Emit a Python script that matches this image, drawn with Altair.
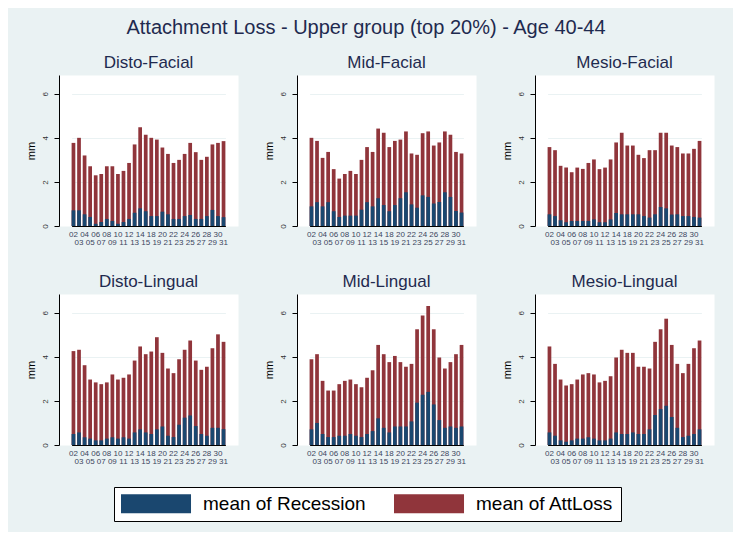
import altair as alt
import pandas as pd

teeth = ["02", "03", "04", "05", "06", "07", "08", "09", "10", "11", "12", "13", "14", "15",
         "18", "19", "20", "21", "22", "23", "24", "25", "26", "27", "28", "29", "30", "31"]

panels = ["Disto-Facial", "Mid-Facial", "Mesio-Facial",
          "Disto-Lingual", "Mid-Lingual", "Mesio-Lingual"]

series_names = ["mean of Recession", "mean of AttLoss"]

att_disto_facial = [3.77, 4.00, 3.20, 2.71, 2.30, 2.36, 2.71, 2.71, 2.36, 2.50, 2.86, 3.70, 4.48, 4.14,
                    4.00, 3.92, 3.56, 3.27, 2.86, 3.00, 3.27, 3.77, 3.35, 3.00, 3.14, 3.70, 3.77, 3.85]
rec_disto_facial = [0.71, 0.71, 0.53, 0.41, 0.10, 0.18, 0.32, 0.23, 0.10, 0.18, 0.32, 0.60, 0.80, 0.67,
                    0.45, 0.45, 0.65, 0.53, 0.32, 0.32, 0.45, 0.50, 0.32, 0.32, 0.45, 0.73, 0.45, 0.40]

att_mid_facial = [4.00, 3.86, 3.09, 3.36, 2.58, 2.15, 2.36, 2.50, 2.36, 3.00, 3.58, 3.36, 4.42, 4.23,
                  3.58, 3.86, 3.92, 4.29, 3.29, 3.23, 4.21, 4.29, 3.65, 3.79, 4.29, 4.14, 3.36, 3.29]
rec_mid_facial = [0.89, 1.08, 0.89, 1.08, 0.67, 0.41, 0.47, 0.47, 0.47, 0.74, 1.08, 0.89, 1.26, 0.95,
                  0.67, 0.95, 1.26, 1.53, 0.98, 0.83, 1.39, 1.32, 1.02, 1.09, 1.53, 1.32, 0.68, 0.61]

att_mesio_facial = [3.58, 3.44, 2.73, 2.65, 2.44, 2.65, 2.59, 2.86, 3.02, 2.58, 2.65, 3.02, 3.79, 4.23,
                    3.65, 3.65, 3.23, 3.08, 3.44, 3.44, 4.23, 4.23, 3.65, 3.58, 3.29, 3.29, 3.50, 3.86]
rec_mesio_facial = [0.53, 0.45, 0.26, 0.17, 0.23, 0.23, 0.23, 0.23, 0.30, 0.17, 0.17, 0.30, 0.59, 0.53,
                    0.53, 0.53, 0.53, 0.45, 0.38, 0.53, 0.86, 0.80, 0.52, 0.53, 0.45, 0.45, 0.41, 0.38]

att_disto_lingual = [4.26, 4.32, 3.62, 2.97, 2.84, 2.76, 2.84, 3.20, 2.97, 3.05, 3.20, 3.83, 4.47, 4.12,
                     4.24, 4.89, 4.18, 3.47, 3.26, 3.89, 4.32, 4.74, 3.83, 3.41, 3.55, 4.39, 5.02, 4.68]
rec_disto_lingual = [0.50, 0.57, 0.35, 0.29, 0.21, 0.21, 0.29, 0.35, 0.29, 0.35, 0.29, 0.57, 0.71, 0.57,
                     0.50, 0.71, 0.84, 0.42, 0.36, 0.92, 1.24, 1.34, 0.86, 0.50, 0.42, 0.78, 0.78, 0.72]

att_mid_lingual = [3.89, 4.12, 2.91, 2.47, 2.47, 2.76, 2.91, 2.97, 2.76, 2.62, 3.05, 3.39, 4.54, 4.12,
                   3.76, 4.04, 3.76, 3.55, 3.68, 5.25, 5.88, 6.30, 5.25, 3.97, 3.47, 3.76, 4.12, 4.54]
rec_mid_lingual = [0.71, 1.00, 0.50, 0.36, 0.36, 0.42, 0.42, 0.50, 0.42, 0.36, 0.50, 0.63, 1.21, 0.78,
                   0.57, 0.84, 0.84, 0.84, 1.07, 1.92, 2.28, 2.41, 1.84, 1.13, 0.78, 0.84, 0.78, 0.84]

att_mesio_lingual = [4.47, 3.68, 2.97, 2.70, 2.76, 2.97, 3.20, 3.26, 3.20, 2.84, 2.91, 3.12, 3.97, 4.32,
                     4.18, 4.18, 3.55, 3.55, 3.47, 4.68, 5.25, 5.73, 4.54, 3.68, 3.26, 3.68, 4.39, 4.74]
rec_mesio_lingual = [0.57, 0.42, 0.21, 0.15, 0.21, 0.29, 0.29, 0.35, 0.29, 0.21, 0.21, 0.29, 0.57, 0.50,
                     0.50, 0.57, 0.50, 0.50, 0.71, 1.36, 1.63, 1.78, 1.27, 0.78, 0.36, 0.42, 0.50, 0.71]

att_values = [att_disto_facial, att_mid_facial, att_mesio_facial,
              att_disto_lingual, att_mid_lingual, att_mesio_lingual]
rec_values = [rec_disto_facial, rec_mid_facial, rec_mesio_facial,
              rec_disto_lingual, rec_mid_lingual, rec_mesio_lingual]

rows = []
for p, att, rec in zip(panels, att_values, rec_values):
    for t, a, r in zip(teeth, att, rec):
        rows.append({"panel": p, "tooth": t, "series": "mean of AttLoss", "value": a})
        rows.append({"panel": p, "tooth": t, "series": "mean of Recession", "value": r})
df = pd.DataFrame(rows)

FONT = "Liberation Sans"
NAVY = "#1A476F"
MAROON = "#90353B"
BG = "#EAF2F3"
TITLE_COLOR = "#1F2A4F"

color = alt.Color(
    "series:N",
    scale=alt.Scale(domain=series_names, range=[NAVY, MAROON]),
    legend=alt.Legend(
        title=None, orient="none", legendX=55, legendY=412, direction="horizontal",
        symbolType="M-1,-1H6.37V1H-1Z", symbolSize=361, symbolStrokeWidth=0,
        symbolOpacity=1, labelOffset=63, labelFontSize=19, labelFont=FONT,
        labelColor="black", labelLimit=400, fillColor="white", strokeColor="black",
        padding=7, columnPadding=28,
    ),
)


def panel(name):
    base = alt.Chart(df).transform_filter(alt.datum.panel == name)
    x = alt.X(
        "tooth:N", sort=teeth,
        scale=alt.Scale(paddingInner=0.33, paddingOuter=0, range=[12.6, 166.4]),
        axis=alt.Axis(
            title=None, ticks=False, labelAngle=0, labelFontSize=8, labelFont=FONT,
            labelColor="#3C4660", labelLineHeight=8.5, labelPadding=4,
            labelExpr="parseInt(datum.value) % 2 == 1 ? ['', datum.label] : datum.label",
            domainColor="black", domainWidth=1, grid=False,
        ),
    )
    y = alt.Y(
        "value:Q",
        scale=alt.Scale(domain=[0, 6.85], nice=False),
        axis=alt.Axis(
            values=[0, 2, 4, 6], title="mm", titleFont=FONT, titleFontSize=11,
            titleFontWeight="normal", titleColor="black", titlePadding=5,
            labelAngle=270, labelFontSize=8, labelFont=FONT, labelColor="#333333",
            labelPadding=5, tickSize=5, tickColor="black", domainColor="black",
            grid=True, gridColor=BG, gridWidth=1,
        ),
    )
    red = base.transform_filter(alt.datum.series == "mean of AttLoss").mark_bar().encode(
        x=x, y=y, color=color)
    blue = base.transform_filter(alt.datum.series == "mean of Recession").mark_bar().encode(
        x=x, y=y, color=color)
    return alt.layer(red, blue).properties(
        width=179, height=151,
        title=alt.TitleParams(name, fontSize=17, font=FONT, fontWeight="normal",
                              color=TITLE_COLOR, baseline="alphabetic", offset=8, dy=18),
    )


chart = alt.concat(
    *[panel(p) for p in panels], columns=3,
    spacing={"row": 68, "column": 59}, bounds="flush",
).properties(
    title=alt.TitleParams(
        "Attachment Loss - Upper group (top 20%) - Age 40-44",
        fontSize=20, font=FONT, fontWeight="normal", color=TITLE_COLOR,
        anchor="middle", frame="group", baseline="alphabetic", offset=22,
        dy=22, dx=307,
    ),
    autosize=alt.AutoSizeParams(type="none"),
    padding={"left": 51, "top": 67, "right": 674, "bottom": 457},
).configure(background=BG).configure_view(stroke="transparent", fill="white")

chart.save("out.html", embed_options={"renderer": "svg", "actions": False})
